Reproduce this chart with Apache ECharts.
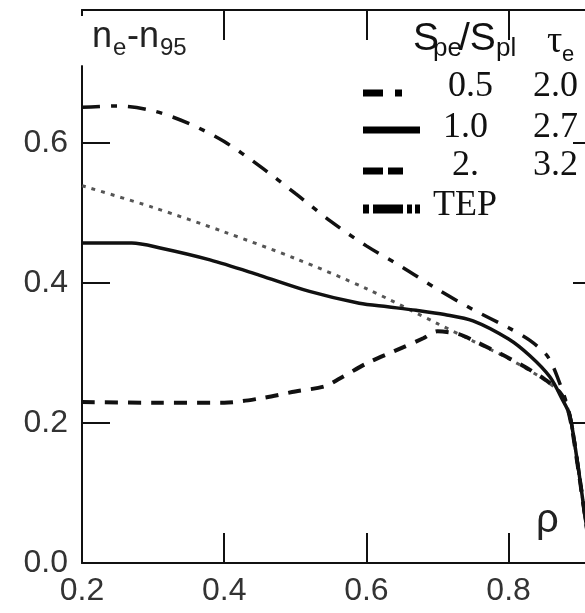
<!DOCTYPE html>
<html><head><meta charset="utf-8">
<script src="https://cdn.jsdelivr.net/npm/echarts@6/dist/echarts.min.js"></script>
<style>html,body{margin:0;padding:0;background:#fff}#c{width:585px;height:613px}</style>
</head><body><div id="c"></div>
<script>
// ---- data ----
const xTickLabels = [0.2, 0.4, 0.6, 0.8];
const yTickLabels = [0.0, 0.2, 0.4, 0.6];

const rhoDashDot = [0.200,0.250,0.300,0.350,0.400,0.450,0.500,0.550,0.600,0.650,0.700,0.750,0.800,0.830,0.855,0.870,0.886,0.897,0.907,0.917];
const valDashDot = [0.651,0.653,0.646,0.628,0.602,0.567,0.528,0.488,0.453,0.423,0.391,0.362,0.336,0.318,0.295,0.262,0.212,0.143,0.071,0.0];

const rhoSolid = [0.200,0.270,0.310,0.380,0.450,0.520,0.590,0.630,0.670,0.710,0.750,0.800,0.830,0.858,0.876,0.886,0.897,0.907,0.917];
const valSolid = [0.457,0.457,0.450,0.433,0.411,0.388,0.371,0.366,0.361,0.355,0.346,0.320,0.296,0.266,0.233,0.211,0.143,0.071,0.0];

const rhoDashed = [0.200,0.300,0.400,0.450,0.500,0.540,0.560,0.600,0.640,0.680,0.700,0.730,0.750,0.800,0.850,0.875,0.886,0.897,0.907,0.917];
const valDashed = [0.230,0.229,0.229,0.235,0.245,0.252,0.262,0.285,0.303,0.321,0.331,0.327,0.318,0.293,0.263,0.240,0.209,0.141,0.071,0.0];

const rhoTEP = [0.200,0.300,0.400,0.500,0.600,0.700,0.750,0.800,0.850,0.875,0.886,0.897,0.907,0.917];
const valTEP = [0.539,0.508,0.473,0.435,0.392,0.342,0.317,0.292,0.262,0.240,0.210,0.141,0.071,0.0];

const legendRatio = ['0.5', '1.0', '2.', 'TEP'];
const legendTau = ['2.0', '2.7', '3.2'];

// ---- chart ----
const chart = echarts.init(document.getElementById('c'));
const zip = (a, b) => a.map((v, i) => [v, b[i]]);
const ink = '#111';
const SANS = '"Liberation Sans", Arial, sans-serif';
const SERIF = '"Liberation Serif", "Times New Roman", serif';
const axLine = {show: true, onZero: false, lineStyle: {color: ink, width: 2}};
const X = {type: 'value', min: 0.2, max: 0.93, splitLine: {show: false}};
const Y = {type: 'value', min: 0, max: 0.79, splitLine: {show: false}};
const innerX = xTickLabels.filter(v => v > 0.2);
const innerY = yTickLabels.filter(v => v > 0);

const lineSeries = (name, data, style) => ({
  name, type: 'line', data, showSymbol: false, symbol: 'none', smooth: 0.3,
  clip: true, lineStyle: style, z: 3
});

chart.setOption({
  animation: false,
  grid: {left: 82, top: 10, width: 519, height: 553, outerBoundsMode: 'none', containLabel: false},
  xAxis: [
    Object.assign({}, X, {position: 'bottom', axisLine: axLine,
      axisTick: {show: true, inside: true, length: 30, customValues: innerX, lineStyle: {color: ink, width: 2}},
      axisLabel: {customValues: xTickLabels, formatter: v => v.toFixed(1), fontFamily: SANS, fontSize: 32, color: '#333', margin: 12}}),
    Object.assign({}, X, {position: 'top', axisLine: axLine,
      axisTick: {show: true, inside: true, length: 30, customValues: innerX, lineStyle: {color: ink, width: 2}},
      axisLabel: {show: false}})
  ],
  yAxis: [
    Object.assign({}, Y, {position: 'left', axisLine: axLine,
      axisTick: {show: true, inside: true, length: 28, customValues: innerY, lineStyle: {color: ink, width: 2}},
      axisLabel: {customValues: yTickLabels, formatter: v => v.toFixed(1), fontFamily: SANS, fontSize: 32, color: '#333', margin: 14}}),
    Object.assign({}, Y, {position: 'right', axisLine: axLine,
      axisTick: {show: true, inside: true, length: 28, customValues: innerY, lineStyle: {color: ink, width: 2}},
      axisLabel: {show: false}})
  ],
  series: [
    lineSeries('TEP', zip(rhoTEP, valTEP), {color: '#555', width: 3, type: [4, 6]}),
    lineSeries('0.5', zip(rhoDashDot, valDashDot), {color: ink, width: 3.5, type: [18, 11, 6, 11]}),
    lineSeries('2.', zip(rhoDashed, valDashed), {color: ink, width: 4, type: [13, 10]}),
    lineSeries('1.0', zip(rhoSolid, valSolid), {color: ink, width: 3.5, type: 'solid'})
  ]
});

// ---- annotations ----
function txt(text, x, baseline, fs, family, color) {
  const y = baseline - 0.35 * fs;
  return {type: 'text', x: x, y: y, z: 120,
    style: {text: text, font: fs + 'px ' + family, fill: color || ink,
      align: 'left', verticalAlign: 'middle', textAlign: 'left', textVerticalAlign: 'middle'}};
}
function seg(x1, x2, y, w, dash) {
  return {type: 'line', z: 120, shape: {x1: x1, y1: y, x2: x2, y2: y},
    style: {stroke: '#000', lineWidth: w, lineDash: dash || null}};
}

const pTop = chart.convertToPixel({xAxisIndex: 0, yAxisIndex: 0}, [0.2, 0.79]);
const pGap = chart.convertToPixel({xAxisIndex: 0, yAxisIndex: 0}, [0.2, 0.711]);

const g = [
  {type: 'rect', z: 110, shape: {x: pTop[0] - 3, y: pTop[1] + 6, width: 6, height: pGap[1] - pTop[1] - 6}, style: {fill: '#fff'}},
  txt('n', 92, 50, 36, SANS, '#222'),
  txt('e', 113, 57, 24, SANS, '#222'),
  txt('-n', 127, 50, 36, SANS, '#222'),
  txt('95', 160, 57, 24, SANS, '#222'),
  txt('ρ', 536, 535, 40, SANS, '#222'),
  txt('S', 413, 53, 39, SANS),
  txt('pe', 433, 58, 26, SANS),
  txt('/S', 459, 53, 39, SANS),
  txt('pl', 496, 58, 26, SANS),
  txt('τ', 547, 55, 38, SERIF),
  txt('e', 562, 63, 22, SANS),
  txt(legendRatio[0], 448, 99, 36, SERIF), txt(legendTau[0], 533, 99, 36, SERIF),
  txt(legendRatio[1], 443, 140, 36, SERIF), txt(legendTau[1], 533, 140, 36, SERIF),
  txt(legendRatio[2], 452, 178, 36, SERIF), txt(legendTau[2], 533, 178, 36, SERIF),
  txt(legendRatio[3], 433, 218, 36, SERIF),
  seg(363, 402, 93, 7, [20, 12, 7, 60]),
  seg(363, 420, 130, 7),
  seg(363, 403, 171, 7, [20, 5, 15, 60]),
  seg(363, 420, 209, 9, [6, 4, 30, 4, 5, 3, 5, 60])
];
chart.setOption({graphic: {elements: g}});
</script>
</body></html>
